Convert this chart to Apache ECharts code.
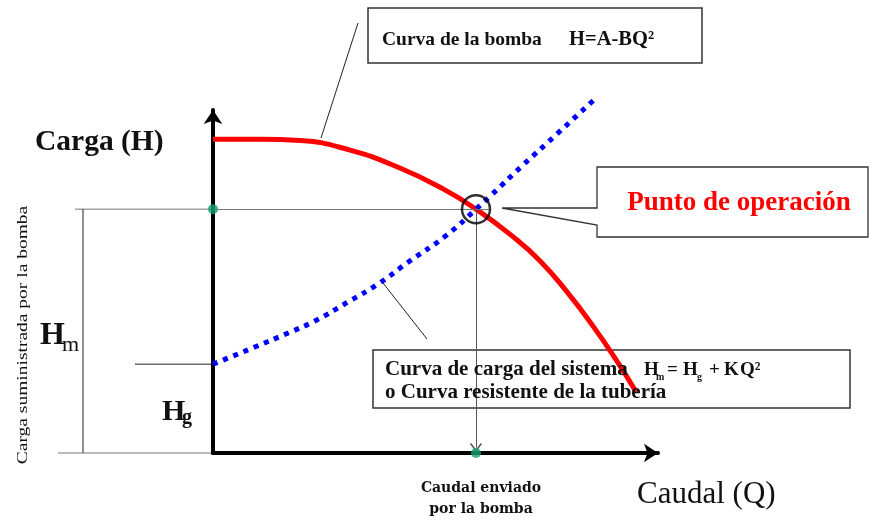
<!DOCTYPE html>
<html>
<head>
<meta charset="utf-8">
<script src="https://cdn.jsdelivr.net/npm/echarts@6/dist/echarts.min.js"></script>
<style>
html, body { margin: 0; padding: 0; background: #fff; }
#main { width: 870px; height: 520px; }
</style>
</head>
<body>
<div id="main"></div>
<script>
// curva de la bomba H = A - BQ^2 (ejes 0-100)
var pumpQ = [0, 10.6, 19.6, 30.8, 42.0, 51.7, 59.1, 67.2, 73.5, 79.6, 85.4, 90.3, 95.1];
var pumpH = [91.5, 91.5, 91.1, 88.3, 83.1, 77.0, 71.1, 63.3, 56.0, 46.9, 37.0, 27.7, 17.8];
// curva de carga del sistema Hm = Hg + K Q^2
var sysQ = [0, 9.4, 16.9, 22.9, 30.3, 37.5, 43.6, 52.6, 59.1, 62.3, 69.7, 77.3, 86.3];
var sysH = [25.9, 30.9, 35.0, 38.5, 44.0, 49.6, 55.4, 63.6, 71.1, 74.9, 84.0, 93.0, 103.8];
// punto de operacion y altura geometrica
var opQ = 59.1, opH = 71.1;
var Hg = 25.9;

var serif = '"Liberation Serif", "Times New Roman", serif';

function zip(xs, ys) {
	var out = [];
	for (var i = 0; i < xs.length; i++) out.push([xs[i], ys[i]]);
	return out;
}

function txt(s, x, y, font, opts) {
	opts = opts || {};
	return {
		type: 'text', x: x, y: y, z: 10,
		rotation: opts.rotation || 0, scaleX: opts.scaleX || 1,
		style: {
			text: s, font: font, fill: opts.fill || '#111',
			textAlign: opts.align || 'left', textVerticalAlign: 'middle'
		}
	};
}

function seg(x1, y1, x2, y2, color) {
	return { type: 'line', z: 0, shape: { x1: x1, y1: y1, x2: x2, y2: y2 }, style: { stroke: color, lineWidth: 1 } };
}

var myChart = echarts.init(document.getElementById('main'));
var option = {
	animation: false,
	grid: { left: 213, top: 110, width: 445, height: 343 },
	xAxis: {
		type: 'value', min: 0, max: 100,
		axisLabel: { show: false }, axisTick: { show: false }, splitLine: { show: false },
		axisLine: { symbol: ['none', 'arrow'], symbolSize: [14, 14], lineStyle: { color: '#000', width: 4 } }
	},
	yAxis: {
		type: 'value', min: 0, max: 100,
		axisLabel: { show: false }, axisTick: { show: false }, splitLine: { show: false },
		axisLine: { symbol: ['none', 'arrow'], symbolSize: [14, 14], lineStyle: { color: '#000', width: 4 } }
	},
	series: [
		{
			name: 'bomba', type: 'line', data: zip(pumpQ, pumpH), smooth: true, clip: false,
			showSymbol: false, lineStyle: { color: '#ff0000', width: 5 }, z: 3
		},
		{
			name: 'sistema', type: 'line', data: zip(sysQ, sysH), smooth: true, clip: false,
			showSymbol: false, lineStyle: { color: '#0000ff', width: 5, type: [5, 6] }, z: 3
		},
		{
			// linea de Hm hasta el punto de operacion
			type: 'line', data: [], silent: true,
			markLine: {
				silent: true, animation: false, symbol: ['none', 'none'],
				label: { show: false },
				lineStyle: { color: '#777', width: 1, type: 'solid' },
				data: [[{ coord: [0, opH] }, { coord: [opQ + 3.1, opH] }]]
			}
		},
		{
			// caudal enviado: flecha desde el punto de operacion
			type: 'line', data: [], silent: true,
			markLine: {
				silent: true, animation: false,
				symbol: ['none', 'path://M5,0L10,8L9,9L5,2.5L1,9L0,8Z'], symbolSize: [12, 9],
				label: { show: false },
				lineStyle: { color: '#555', width: 1, type: 'solid' },
				data: [[{ coord: [opQ, opH] }, { coord: [opQ, 1.6] }]]
			}
		},
		{
			type: 'scatter', data: [[opQ, opH]], symbolSize: 28, clip: false, z: 5, silent: true,
			itemStyle: { color: 'rgba(0,0,0,0)', borderColor: '#000', borderWidth: 2.5 }
		},
		{
			type: 'scatter', data: [[0, opH], [opQ, 0]], symbolSize: 10, clip: false, z: 6, silent: true,
			itemStyle: { color: '#17a072' }
		}
	]
};
myChart.setOption(option);

// cotas a la izquierda del eje, a partir de la posicion de Hm y Hg
var pHm = myChart.convertToPixel({ gridIndex: 0 }, [0, opH]);
var pHg = myChart.convertToPixel({ gridIndex: 0 }, [0, Hg]);
var p0 = myChart.convertToPixel({ gridIndex: 0 }, [0, 0]);

myChart.setOption({
	graphic: [
		seg(75, pHm[1], p0[0], pHm[1], '#777'),
		seg(83, pHm[1], 83, p0[1], '#222'),
		seg(58, p0[1], p0[0], p0[1], '#777'),
		seg(135, pHg[1], p0[0], pHg[1], '#222'),
		// recuadro curva de la bomba
		{ type: 'rect', shape: { x: 368, y: 8, width: 334, height: 55 }, style: { fill: '#fff', stroke: '#333', lineWidth: 1.5 } },
		txt('Curva de la bomba', 382, 40, 'bold 19.5px ' + serif),
		txt('H=A-BQ\u00b2', 569, 40, 'bold 20.5px ' + serif),
		seg(358, 23, 321, 138, '#222'),
		// recuadro curva del sistema
		{ type: 'rect', shape: { x: 373, y: 350, width: 477, height: 58 }, style: { fill: '#fff', stroke: '#333', lineWidth: 1.5 } },
		txt('Curva de carga del sistema', 385, 370, 'bold 21px ' + serif),
		txt('H', 644, 370, 'bold 19px ' + serif),
		txt('m', 656, 377, 'bold 10px ' + serif),
		txt('=', 667, 370, 'bold 19px ' + serif),
		txt('H', 683, 370, 'bold 19px ' + serif),
		txt('g', 697, 377, 'bold 10px ' + serif),
		txt('+', 709, 370, 'bold 19px ' + serif),
		txt('K', 724, 370, 'bold 19px ' + serif),
		txt('Q\u00b2', 740, 370, 'bold 19px ' + serif),
		txt('o Curva resistente de la tuber\u00eda', 385, 393, 'bold 21px ' + serif),
		seg(383, 283, 427, 339, '#222'),
		// llamada punto de operacion
		{ type: 'polygon', shape: { points: [[597, 167], [868, 167], [868, 237], [597, 237], [597, 225], [502, 208], [597, 208]] }, style: { fill: '#fff', stroke: '#333', lineWidth: 1.3 } },
		txt('Punto de operaci\u00f3n', 739, 203, 'bold 27px ' + serif, { fill: '#ff0000', align: 'center' }),
		// rotulos de ejes
		txt('Carga (H)', 35, 142, 'bold 29.5px ' + serif),
		txt('Caudal (Q)', 637, 495, '31px ' + serif),
		txt('Caudal enviado', 481, 488, 'bold 14px "DejaVu Serif", serif', { align: 'center' }),
		txt('por la bomba', 481, 509, 'bold 14px "DejaVu Serif", serif', { align: 'center' }),
		txt('H', 40, 336, 'bold 32px ' + serif),
		txt('m', 62, 345, '22px ' + serif),
		txt('H', 162, 412, 'bold 30px ' + serif),
		txt('g', 182, 418, 'bold 20px ' + serif),
		txt('Carga suministrada por la bomba', 23, 335, '15px ' + serif, { rotation: Math.PI / 2, scaleX: 1.3, align: 'center' })
	]
});
</script>
</body>
</html>
